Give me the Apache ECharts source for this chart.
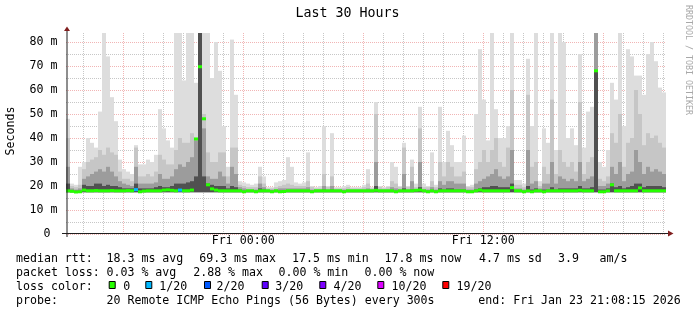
<!DOCTYPE html>
<html>
<head>
<meta charset="utf-8">
<script src="https://cdn.jsdelivr.net/npm/echarts@6/dist/echarts.min.js"></script>
<style>html,body{margin:0;padding:0;background:#fff}#c{width:697px;height:315px}</style>
</head>
<body>
<div id="c"></div>
<script>
// ---- time base: samples every 12 minutes, hours counted from Thu 00:00 ----
const startHour = 15.1375;      // Thu 15:08:15
const stepHours = 0.2;
const xLabelHours = [24, 36];   // Fri 00:00, Fri 12:00
const yLabelValues = [0, 10, 20, 30, 40, 50, 60, 70, 80];
const yGridValues = [0, 5, 10, 15, 20, 25, 30, 35, 40, 45, 50, 55, 60, 65, 70, 75, 80];
const yMax = 83.75;
const smokeFloor = 17.4;

// ---- smoke (ms): highest ping, upper-mid, lower-mid and core band tops ----
const smokeMax = [
  48,21,20.5,28,30,40,38,36,51,83.75,
  74,57,47,31,27,26,25,37,29,29,
  31,30,33,52,44,39,36,83.75,83.75,64,
  83.75,83.75,63,83.75,83.75,83.75,65,80,68,45,
  28,81,58,22,21.5,21,20.5,21,28,24,
  19.5,19.5,21.5,22,22.5,32,28,21.5,21,21.5,
  34,20,19.5,20,45,20,42,19.5,19.5,20,
  20.5,19.5,19.5,19.5,20.5,27,19.5,55,20,19.5,
  20,30,28,20,38,20,31,21,53,21,
  20,34,20.5,53,30,43,37,30,30,41,
  20,20.5,50,77,56,39,83.75,52,40,40,
  45,83.75,22.5,22.5,21,73,45,83.75,22,44,
  38,83.75,35,83.75,80,40,44,37,75,36,
  51,53,83.75,30,28,35,63,56,83.75,45,
  77,74,66,66,58,75,80,72,61,59
];
const smokeMid = [
  40,20,19.5,20.5,27,30,31,32,35,33,
  36,34,33,26,23,23,22,36,24,24,
  25,24,26,33,31,29,29,35,40,38,
  38,42,40,83.75,50,34,30,30,34,34,
  24,36,36,20.5,20,19.5,19.5,19.5,24,21,
  19,19,19.5,20,20.5,21,20.5,20,20,20,
  22,19.5,19,19,25,19.5,24,19,19,19,
  19.5,19,19,19,19.5,21,19,50,19.5,19,
  19.5,22,21,19.5,36,19.5,28,19.5,44,19.5,
  19.5,22,19.5,30,24,30,28,24,24,26,
  19.5,19.5,27,30,35,30,35,40,30,28,
  36,60,20.5,20.5,19.5,58,28,30,20,28,
  25,56,25,35,30,28,30,26,55,25,
  30,32,83.75,23,22,24,42,38,50,28,
  38,40,60,50,37,42,40,41,38,36
];
const smokeDark = [
  28,19,18.5,19,23,24,25,26,27,26,
  28,26,24,22,21,20.5,20,28,21,21,
  21,21,21.5,25,23,23,24,27,29,28,
  30,32,39,83.75,44,24,23,23,26,24,
  21,28,25,19.5,19,18.5,18.5,18.5,21,19.5,
  18.5,18.5,18.5,19,19,19,19,19,19,19,
  19.5,18.5,18.5,18.5,20,18.5,20,18.5,18.5,18.5,
  18.5,18.5,18.5,18.5,18.5,19,18.5,30,18.5,18.5,
  18.5,19.5,19,18.5,25,18.5,22,18.5,30,18.5,
  18.5,19.5,18.5,22,20.5,22,22,21,21,21,
  18.5,18.5,21,22,23,24,25,27,24,23,
  24,35,19,19,18.5,35,21,22,19,21,
  21,30,21,24,23,22,23,22,30,22,
  23,24,83.75,20,20,21,28,25,30,22,
  25,26,35,30,25,28,26,27,26,25
];
const smokeCore = [
  21,18,18,18,20.5,20,20,21,21,20,
  20.5,20,20,19.5,19,19,19,21,19,19,
  19,19,19.5,20,19.5,19.5,20,21,21,21,
  21.5,22,24,83.75,24,21,20.5,20,20,20,
  19,20,19.5,18.5,18,18,18,18,19,18.5,
  18,18,18,18,18,18,18,18,18,18,
  18,18,18,18,18.5,18,18.5,18,18,18,
  18,18,18,18,18,18,18,20,18,18,
  18,18,18,18,19,18,18.5,18,19.5,18,
  18,18,18,19,18.5,19,19,18.5,18.5,18.5,
  18,18,18.5,19,19.5,19.5,20,20,19.5,19.5,
  19.5,21,18,18,18,20,18.5,19,18,18.5,
  18.5,19.5,18.5,19,19,19,19,19,20,19,
  19,19.5,68,18.5,18.5,19,21,19.5,20,19,
  19.5,20,21,21,19.5,20,20,20,20,19.5
];
// ---- median rtt (ms) and lost pings (of 20) ----
const median = [
  18.0,17.8,17.5,17.6,18.3,18.0,18.0,18.1,18.0,18.0,
  18.0,18.1,18.0,18.0,18.0,18.1,18.0,18.5,17.6,17.9,
  18.0,18.0,18.0,18.0,18.3,18.4,18.2,18.0,18.3,18.0,
  18.0,18.3,39.6,69.7,48.0,20.5,18.8,18.3,18.0,18.0,
  18.0,18.0,18.0,18.0,17.6,18.0,18.0,17.6,18.0,18.0,
  18.0,17.6,18.0,17.6,17.7,18.0,18.0,18.0,18.0,18.0,
  18.0,17.6,18.0,18.0,18.0,18.0,18.0,18.0,18.0,17.6,
  18.0,18.0,18.0,18.0,18.0,18.0,18.0,18.2,18.0,18.0,
  18.0,18.0,17.6,18.0,18.0,18.0,18.0,18.2,18.3,18.0,
  17.6,18.0,17.6,18.0,18.0,18.0,18.0,18.0,18.0,18.0,
  17.6,17.6,18.0,18.3,18.0,18.0,18.0,18.0,18.0,18.0,
  18.0,19.3,18.0,18.0,17.6,18.0,17.6,18.0,18.0,17.6,
  18.0,18.0,18.0,18.0,18.0,18.0,18.0,18.0,18.2,18.0,
  18.0,18.0,68.0,17.6,17.6,18.0,20.5,18.0,18.0,18.0,
  18.0,18.0,18.0,19.2,18.0,18.0,18.0,18.0,18.0,18.0
];
const loss = [
  0,0,0,0,0,0,0,0,0,0, 0,0,0,0,0,0,0,1,0,0,
  0,0,0,0,0,0,0,0,1,0, 0,0,0,0,0,0,0,0,0,0,
  0,0,0,0,0,0,0,0,0,0, 0,0,0,0,0,0,0,0,0,0,
  0,0,0,0,0,0,0,0,0,0, 0,0,0,0,0,0,0,0,0,0,
  0,0,0,0,0,0,0,0,0,0, 0,0,0,0,0,0,0,0,0,0,
  0,0,0,0,0,0,0,0,0,0, 0,0,0,0,0,0,0,0,0,0,
  0,0,0,0,0,0,0,0,0,0, 0,0,0,0,0,0,0,0,0,0,
  0,0,0,0,0,0,0,0,0,0
];

// ---- legend texts ----
const legendRtt = ['median rtt:', '18.3 ms avg', '69.3 ms max', '17.5 ms min', '17.8 ms now', '4.7 ms sd', '3.9', 'am/s'];
const legendLoss = ['packet loss:', '0.03 % avg', '2.88 % max', '0.00 % min', '0.00 % now'];
const lossLevels = ['0', '1/20', '2/20', '3/20', '4/20', '10/20', '19/20'];
const lossLevelColors = ['#26ff00', '#00b8ff', '#0059ff', '#5e00ff', '#7e00ff', '#dd00ff', '#ff0000'];
const lossThresholds = [0, 1, 2, 3, 4, 10, 19];
const legendProbe = ['probe:', '20 Remote ICMP Echo Pings (56 Bytes) every 300s', 'end: Fri Jan 23 21:08:15 2026'];

// ---- layout (positions only) ----
const MONO = '"DejaVu Sans Mono", monospace';
const rttX = [16, 106.5, 199.2, 292, 384.5, 479, 558, 599.5];
const lossX = [16, 106.5, 193.2, 278.5, 364.5];
const sqX = [108.7, 145.3, 204, 261.7, 319.3, 377.3, 442.3];
const lvX = [123.3, 159.3, 216.6, 275.3, 333.6, 391.6, 456.6];
const probeX = [16, 106.5, 478.3];
const rowY = [259, 273.3, 287, 300.7];

function lossColor(n) {
  let c = lossLevelColors[0];
  for (let k = 0; k < lossThresholds.length; k++) if (n >= lossThresholds[k]) c = lossLevelColors[k];
  return c;
}
function txt(text, x, y, size, o) {
  o = o || {};
  const al = o.align || 'left';
  return { type: 'text', x: x, y: y, rotation: o.rotation || 0, silent: true, z: 100,
    style: { text: text, x: 0, y: 0, fill: o.fill || '#000', font: size + 'px ' + MONO,
      textAlign: al, align: al, textVerticalAlign: 'middle', verticalAlign: 'middle' } };
}

const smokeData = smokeMax.map((v, i) => [startHour + i * stepHours, startHour + (i + 1) * stepHours, v, smokeMid[i], smokeDark[i], smokeCore[i]]);
const medianData = median.map((v, i) => [startHour + i * stepHours, startHour + (i + 1) * stepHours, v, loss[i]]);
const hourTicks = [];
for (let h = Math.ceil(startHour); h <= startHour + 30; h++) hourTicks.push(h);

const MAJ = 'rgba(222,79,79,0.42)';
const MIN = 'rgba(143,143,143,0.5)';
const xGridColors = hourTicks.map(h => (h % 6 === 0 ? MAJ : MIN));

const graphic = [];
graphic.push(txt('Last 30 Hours', 347.5, 14, 13.3, { align: 'center' }));
graphic.push(txt('Seconds', 11, 131, 11.6, { align: 'center', rotation: Math.PI / 2 }));
graphic.push(txt('RRDTOOL / TOBI OETIKER', 688.5, 60, 8.3, { align: 'center', rotation: -Math.PI / 2, fill: '#a8a8a8' }));
legendRtt.forEach((t, k) => graphic.push(txt(t, rttX[k], rowY[0], 11.6)));
legendLoss.forEach((t, k) => graphic.push(txt(t, lossX[k], rowY[1], 11.6)));
graphic.push(txt('loss color:', 16, rowY[2], 11.6));
lossLevels.forEach((t, k) => {
  graphic.push({ type: 'rect', silent: true, z: 100, shape: { x: sqX[k] + 0.5, y: 281.5, width: 6, height: 7 },
    style: { fill: lossLevelColors[k], stroke: '#000', lineWidth: 1 } });
  graphic.push(txt(t, lvX[k], rowY[2], 11.6));
});
legendProbe.forEach((t, k) => graphic.push(txt(t, probeX[k], rowY[3], 11.6)));
// axes lines and arrows
graphic.push({ type: 'line', silent: true, z: 90, shape: { x1: 62, y1: 233.5, x2: 668, y2: 233.5 }, style: { stroke: '#1f1f1f', lineWidth: 1 } });
graphic.push({ type: 'line', silent: true, z: 90, shape: { x1: 67, y1: 30, x2: 67, y2: 237 }, style: { stroke: '#1f1f1f', lineWidth: 1 } });
graphic.push({ type: 'polygon', silent: true, z: 91, shape: { points: [[64, 31], [70, 31], [67, 26.5]] }, style: { fill: '#801f1f' } });
graphic.push({ type: 'polygon', silent: true, z: 91, shape: { points: [[668, 230.5], [668, 236.5], [673.5, 233.5]] }, style: { fill: '#801f1f' } });

const chart = echarts.init(document.getElementById('c'), null, { renderer: 'canvas' });
chart.setOption({
  animation: false,
  backgroundColor: '#ffffff',
  grid: { left: 66, top: 33, width: 600, height: 201, containLabel: false },
  xAxis: {
    type: 'value', min: startHour, max: startHour + smokeMax.length * stepHours,
    axisLine: { show: false },
    axisTick: { show: false, customValues: hourTicks },
    axisLabel: { customValues: xLabelHours, margin: 1, color: '#000', fontFamily: MONO, fontSize: 11.6,
      formatter: v => 'Fri ' + String(v - 24).padStart(2, '0') + ':00' },
    splitLine: { show: true, lineStyle: { color: xGridColors, type: [1, 1], width: 1 } }
  },
  yAxis: {
    type: 'value', min: 0, max: yMax,
    axisLine: { show: false },
    axisTick: { show: false, customValues: yGridValues },
    axisLabel: { customValues: yLabelValues, margin: 8.5, color: '#000', fontFamily: MONO, fontSize: 11.6,
      formatter: v => (v === 0 ? '0 ' : v + ' m') },
    splitLine: { show: true, lineStyle: { color: [MAJ, MIN], type: [1, 1], width: 1 } }
  },
  series: [
    {
      type: 'custom', z: 2, silent: true, clip: true,
      encode: { x: [0, 1], y: [2, 3, 4, 5] },
      data: smokeData,
      renderItem: (params, api) => {
        const t0 = api.value(0), t1 = api.value(1);
        const base = api.coord([t0, smokeFloor]);
        const right = api.coord([t1, smokeFloor]);
        const layers = [[2, '#dddddd'], [3, '#c6c6c6'], [4, '#9c9c9c'], [5, '#505050']];
        const children = [];
        layers.forEach(([d, col]) => {
          const top = api.coord([t0, api.value(d)]);
          const h = base[1] - top[1];
          if (h > 0) children.push({ type: 'rect', shape: { x: base[0], y: top[1], width: right[0] - base[0], height: h }, style: { fill: col } });
        });
        return { type: 'group', children: children };
      }
    },
    {
      type: 'custom', z: 5, silent: true, clip: true,
      encode: { x: [0, 1], y: 2 },
      data: medianData,
      renderItem: (params, api) => {
        const a = api.coord([api.value(0), api.value(2)]);
        const b = api.coord([api.value(1), api.value(2)]);
        return { type: 'rect', shape: { x: a[0], y: a[1] - 1.5, width: b[0] - a[0], height: 3 }, style: { fill: lossColor(api.value(3)) } };
      }
    }
  ],
  graphic: graphic
});
</script>
</body>
</html>
